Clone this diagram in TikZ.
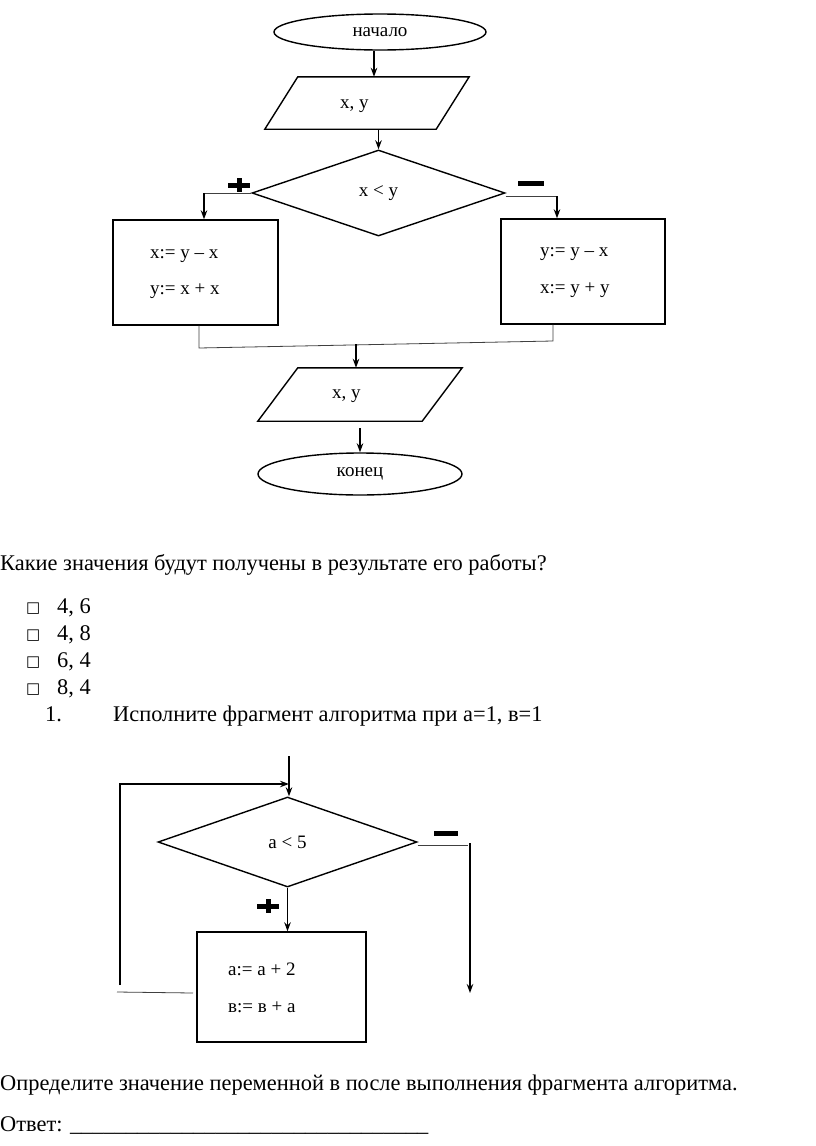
\documentclass[tikz,border=0pt]{standalone}
\usepackage{fontspec}
\setmainfont{Liberation Serif}
\newfontfamily\symfont{DejaVu Sans}
\usetikzlibrary{shapes.geometric,arrows.meta}
\begin{document}
\begin{tikzpicture}[x=1pt,y=-1pt,
  blk/.style={draw,line width=1.4pt,inner sep=0pt},
  ar/.style={-{Stealth[length=9pt,width=6.5pt]},line width=1.3pt},
  thinln/.style={line width=0.8pt,draw=black!75},
  loopln/.style={line width=1.1pt},
  ft/.style={font=\fontsize{19}{22}\selectfont},
  lbl/.style={font=\fontsize{19}{22}\selectfont,anchor=base west,inner sep=0pt},
  body/.style={font=\fontsize{22.4}{26}\selectfont,anchor=base west,inner sep=0pt},
  sgn/.style={line width=5pt},
  iobox/.style={minimum width=#1,minimum height=52pt,inner sep=0pt},
]
\useasboundingbox[fill=white] (0,0) rectangle (816,1146);

% ---------- first flowchart ----------
\node[blk,ellipse,minimum width=212pt,minimum height=36pt,ft] (start) at (380,32) {начало};

\node[iobox=204pt] (io1) at (367,103) {};
\draw[blk] ([xshift=33pt]io1.north west) -- (io1.north east) -- ([xshift=-33pt]io1.south east) -- (io1.south west) -- cycle;
\node[lbl] (io1t) at (340,108) {x, y};

\node[blk,diamond,minimum width=253pt,minimum height=86pt,ft] (d1) at (378.5,193) {x < y};

\node[blk,minimum width=165pt,minimum height=105pt] (b1) at (195.5,272.5) {};
\node[lbl] (b1a) at (150,258) {x:= y – x};
\node[lbl] (b1b) at (150,294) {y:= x + x};

\node[blk,minimum width=164pt,minimum height=105pt] (b2) at (583,271.5) {};
\node[lbl] (b2a) at (540,256) {y:= y – x};
\node[lbl] (b2b) at (540,293) {x:= y + y};

\node[iobox=204pt,minimum height=53pt] (io2) at (360,394.5) {};
\draw[blk] ([xshift=40pt]io2.north west) -- (io2.north east) -- ([xshift=-40pt]io2.south east) -- (io2.south west) -- cycle;
\node[lbl] (io2t) at (332,398) {x, y};

\node[blk,ellipse,minimum width=204pt,minimum height=42pt,ft] (fin) at (360,474) {конец};

% connectors
\draw[ar] ([xshift=-6pt]start.south) -- ([xshift=-6pt]start.south |- io1.north);
\draw[ar] (io1.south -| d1.north) -- (d1.north);
\coordinate (lt) at (204,193);
\draw[thinln] (d1.west) -- (lt);
\draw[ar] (lt) -- (lt |- b1.north);
\coordinate (rt) at (557,196);
\draw[thinln] ([yshift=-3pt]d1.east) -- (rt);
\draw[ar] (rt) -- (rt |- b2.north);
\coordinate (m1) at (199,348);
\coordinate (m2) at (553,341);
\coordinate (m3) at (356,344);
\draw[thinln] (m1 |- b1.south) -- (m1) -- (m2) -- (m2 |- b2.south);
\draw[ar] (m3) -- (m3 |- io2.north);
\draw[ar] ([yshift=-7pt]io2.south) -- (fin.north);

% signs
\coordinate (p1) at (239,185);
\draw[sgn] ([xshift=-11pt]p1) -- ([xshift=11pt]p1);
\draw[sgn] ([yshift=7pt]p1) -- ([yshift=-7pt]p1);
\coordinate (n1) at (531,183);
\draw[sgn] ([xshift=-13pt]n1) -- ([xshift=13pt]n1);

% ---------- text ----------
\node[body] (q1) at (0,570) {Какие значения будут получены в результате его работы?};
\foreach \t/\yy [count=\i] in {{4, 6}/613,{4, 8}/640,{6, 4}/667,{8, 4}/694}{
  \node[body,font=\symfont\fontsize{15}{17}\selectfont] (cb\i) at (26,\yy-1) {□};
  \node[body] (opt\i) at (57,\yy) {\t};
}
\node[body] (num) at (45,721) {1.};
\node[body] (q2) at (113,721) {Исполните фрагмент алгоритма при а=1, в=1};

% ---------- second flowchart ----------
\node[blk,diamond,minimum width=259pt,minimum height=90pt,ft] (d2) at (287.5,842) {а < 5};
\node[blk,minimum width=169pt,minimum height=110pt] (b3) at (281.5,987) {};
\node[lbl] (b3a) at (228,975) {а:= а + 2};
\node[lbl] (b3b) at (228,1012) {в:= в + а};

\coordinate (top2) at (289,756);
\draw[ar] (top2) -- (top2 |- d2.north);
\coordinate (l1) at (120,985);
\coordinate (l2) at (120,784);
\coordinate (l3) at (289,784);
\draw[loopln,-{Stealth[length=9pt,width=6.5pt]}] (l1) -- (l2) -- (l3);
\coordinate (l4) at (193,993);
\coordinate (l5) at (117,992);
\draw[thinln] (l4) -- (l5);
\coordinate (r1) at (468,845);
\draw[thinln] ([yshift=-3pt]d2.east) -- (r1);
\coordinate (r2) at (470,843);
\coordinate (r3) at (470,993);
\draw[ar] (r2) -- (r3);
\draw[ar] (d2.south) -- (d2.south |- b3.north);

\coordinate (p2) at (268,906);
\draw[sgn] ([xshift=-11pt]p2) -- ([xshift=11pt]p2);
\draw[sgn] ([yshift=7pt]p2) -- ([yshift=-7pt]p2);
\coordinate (n2) at (446,833);
\draw[sgn] ([xshift=-12pt]n2) -- ([xshift=12pt]n2);

% ---------- final text ----------
\node[body] (q3) at (0,1090) {Определите значение переменной в после выполнения фрагмента алгоритма.};
\node[body] (ans) at (0,1131) {Ответ: \_\_\_\_\_\_\_\_\_\_\_\_\_\_\_\_\_\_\_\_\_\_\_\_\_\_\_\_\_\_\_\_};
\end{tikzpicture}
\end{document}
